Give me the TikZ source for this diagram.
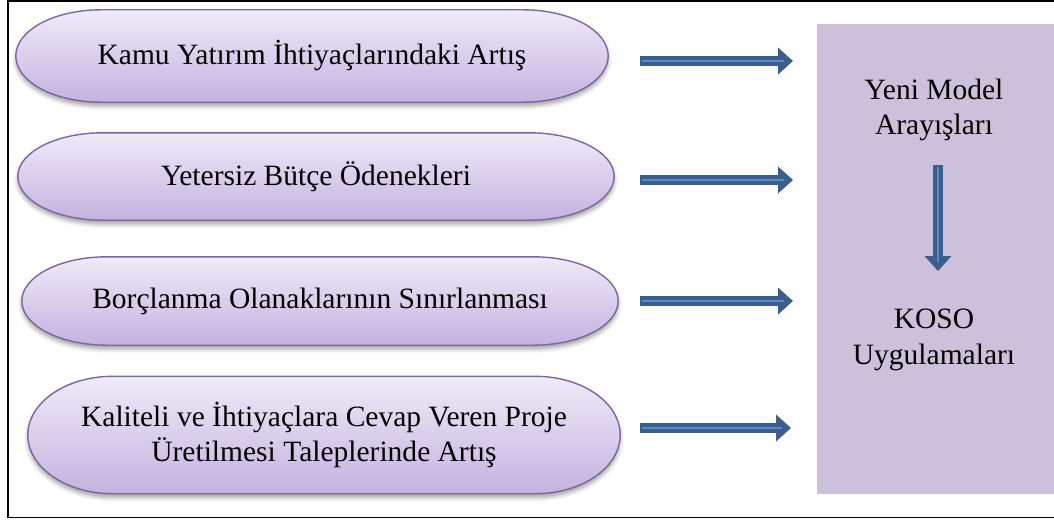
\documentclass[tikz,border=0pt]{standalone}
\usepackage{fontspec}
\setmainfont{Liberation Serif}[Ligatures=TeX]
\newfontfamily\labelfont{Liberation Serif}
\usetikzlibrary{calc,arrows.meta,backgrounds,shadows.blur}

\definecolor{pilltop}{HTML}{EFEBF7}
\definecolor{pillbot}{HTML}{C4B2E0}
\definecolor{pillline}{HTML}{7F64A3}
\definecolor{boxfill}{HTML}{CCC0DA}
\definecolor{arrowblue}{HTML}{3A5F8C}
\definecolor{arrowhl}{HTML}{5B8AC6}

\tikzset{
  txt/.style={font=\labelfont\fontsize{29.5}{35.5}\selectfont, text=black, align=center, inner sep=0pt},
  pillnode/.style={txt, draw=none},
  pill/.style={top color=pilltop, bottom color=pillbot, draw=pillline, line width=1.4pt,
    blur shadow={shadow xshift=0pt, shadow yshift=-4pt, shadow opacity=35, shadow blur radius=4pt}},
  sidebox/.style={fill=boxfill, draw=none, inner sep=0pt},
  blockarrow/.style={draw=arrowblue, line width=10.5pt,
    -{Triangle[width=27pt, length=15pt, line width=0pt]}},
  arrowglint/.style={draw=arrowhl, line width=1.6pt},
  frame/.style={draw=black, line width=1.4pt},
}

% horizontal half-axis of the elliptic ends
\newcommand\pillrx{85}
% lozenge drawn behind a text node, spanning the node's box
\newcommand\pillbehind[1]{%
  \begin{scope}[on background layer]
    \path[pill] let \p1=(#1.north west), \p2=(#1.south east), \n1={(\y1-\y2)/2} in
      (\x1+\pillrx pt,\y1) -- (\x2-\pillrx pt,\y1)
      arc[start angle=90, end angle=-90, x radius=\pillrx pt, y radius=\n1]
      -- (\x1+\pillrx pt,\y2)
      arc[start angle=270, end angle=90, x radius=\pillrx pt, y radius=\n1]
      -- cycle;
  \end{scope}}
% block arrow between two named coordinates, with its light centre line
\newcommand\blockarrow[4]{%
  \draw[blockarrow] (#1) -- (#2);
  \draw[arrowglint] ($(#1)+(#3)$) -- ($(#2)-(#4)$);}

\begin{document}
\begin{tikzpicture}[x=1pt, y=1pt]
  \useasboundingbox (0,0) rectangle (1054,-519);

  % outer frame (its right side lies beyond the page edge)
  \draw[frame] (1070,-1) -- (8,-1) -- (8,-517.5) -- (1070,-517.5);

  % result panel
  \node[sidebox, minimum width=250pt, minimum height=470pt] (panel) at (942,-259) {};
  \node[txt] (model) at (934,-110) {Yeni Model\\Arayışları};
  \node[txt] (koso) at (934,-340) {KOSO\\Uygulamaları};

  % causes
  \node[pillnode, minimum width=592pt, minimum height=92pt] (c1) at (312,-56)
    {Kamu Yatırım İhtiyaçlarındaki Artış};
  \node[pillnode, minimum width=596pt, minimum height=87pt] (c2) at (316,-176.5)
    {Yetersiz Bütçe Ödenekleri};
  \node[pillnode, minimum width=596pt, minimum height=88pt] (c3) at (320,-301)
    {Borçlanma Olanaklarının Sınırlanması};
  \node[pillnode, minimum width=592pt, minimum height=117pt] (c4) at (324,-435)
    {Kaliteli ve İhtiyaçlara Cevap Veren Proje\\Üretilmesi Taleplerinde Artış};
  \pillbehind{c1}
  \pillbehind{c2}
  \pillbehind{c3}
  \pillbehind{c4}

  % arrow end points
  \coordinate (a1s) at (640,-61);  \coordinate (a1e) at (793,-61);
  \coordinate (a2s) at (640,-180); \coordinate (a2e) at (793,-180);
  \coordinate (a3s) at (640,-301); \coordinate (a3e) at (793,-301);
  \coordinate (a4s) at (640,-428); \coordinate (a4e) at (791,-428);
  \coordinate (ds) at (938,-165);  \coordinate (de) at (938,-271);

  \blockarrow{a1s}{a1e}{2,0}{9,0}
  \blockarrow{a2s}{a2e}{2,0}{9,0}
  \blockarrow{a3s}{a3e}{2,0}{9,0}
  \blockarrow{a4s}{a4e}{2,0}{9,0}
  \blockarrow{ds}{de}{0,-2}{0,-9}
\end{tikzpicture}
\end{document}
